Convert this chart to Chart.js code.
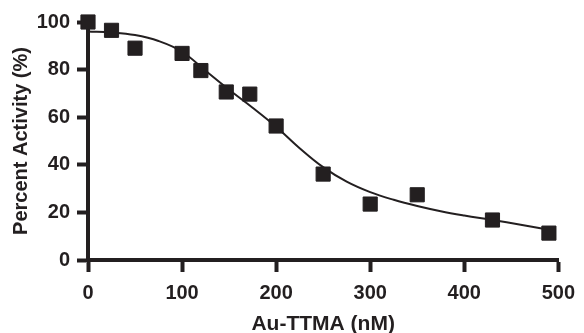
<!DOCTYPE html>
<html>
<head>
<meta charset="utf-8">
<script src="https://cdn.jsdelivr.net/npm/chart.js@4.4.1/dist/chart.umd.min.js"></script>
<style>
  html, body { margin: 0; padding: 0; background: #fff; }
  #wrap { width: 584px; height: 333px; position: relative; }
</style>
</head>
<body>
<div id="wrap"><canvas id="c"></canvas></div>
<script>
// Measured data points
const concentrations = [0, 25, 50, 100, 120, 147, 172, 200, 250, 300, 350, 430, 490];
const activity = [100, 96.5, 89, 86.8, 79.6, 70.6, 69.7, 56.3, 36.1, 23.5, 27.4, 16.8, 11.3];

// Fitted curve
const fitX = [0, 25, 50, 75, 100, 125, 150, 175, 200, 225, 250, 275, 300, 325, 350, 375, 400, 430, 460, 490];
const fitY = [96, 95.6, 94.5, 92, 87.5, 79.5, 71.5, 64, 56, 47, 39, 32.9, 28.5, 25.3, 22.7, 20.5, 18.7, 16.8, 14.8, 12.7];

const xTicks = [0, 100, 200, 300, 400, 500];
const yTicks = [0, 20, 40, 60, 80, 100];
const xTitle = 'Au-TTMA (nM)';
const yTitle = 'Percent Activity (%)';

const ink = '#231f20';
const fam = '"Liberation Sans", Arial, Helvetica, sans-serif';

new Chart(document.getElementById('c'), {
  type: 'scatter',
  data: {
    datasets: [
      {
        type: 'line',
        data: fitX.map((x, i) => ({ x: x, y: fitY[i] })),
        borderColor: ink,
        borderWidth: 2,
        pointRadius: 0,
        fill: false,
        tension: 0.4,
        clip: false,
        order: 2
      },
      {
        data: concentrations.map((x, i) => ({ x: x, y: activity[i] })),
        pointStyle: 'rect',
        pointRadius: 10,
        pointHoverRadius: 10,
        backgroundColor: ink,
        borderColor: ink,
        borderWidth: 1,
        clip: false,
        order: 1
      }
    ]
  },
  options: {
    responsive: true,
    maintainAspectRatio: false,
    animation: false,
    devicePixelRatio: 1,
    layout: { padding: { top: 22, right: 18, left: 0, bottom: 0 } },
    plugins: { legend: { display: false }, tooltip: { enabled: false } },
    scales: {
      x: {
        type: 'linear',
        min: 0, max: 500,
        afterBuildTicks: s => { s.ticks = xTicks.map(v => ({ value: v })); },
        afterFit: s => { s.height = 73; },
        border: { display: true, color: ink, width: 4 },
        grid: { drawOnChartArea: false, drawTicks: true, tickLength: 12, tickWidth: 4, tickColor: ink, color: ink },
        ticks: { color: ink, padding: 9, font: { family: fam, size: 20, weight: 'bold' }, maxRotation: 0 },
        title: { display: true, text: xTitle, color: ink, font: { family: fam, size: 21, weight: 'bold', lineHeight: 0.8 }, padding: 0 }
      },
      y: {
        type: 'linear',
        min: 0, max: 100,
        afterBuildTicks: s => { s.ticks = yTicks.map(v => ({ value: v })); },
        afterFit: s => { s.width = 88; },
        border: { display: true, color: ink, width: 4 },
        grid: { drawOnChartArea: false, drawTicks: true, tickLength: 11, tickWidth: 4, tickColor: ink, color: ink },
        ticks: { color: ink, padding: 7, font: { family: fam, size: 20, weight: 'bold' } },
        title: { display: true, text: yTitle, color: ink, font: { family: fam, size: 20, weight: 'bold', lineHeight: 1.2 }, padding: { top: 9, bottom: 0 } }
      }
    }
  }
});
</script>
</body>
</html>
